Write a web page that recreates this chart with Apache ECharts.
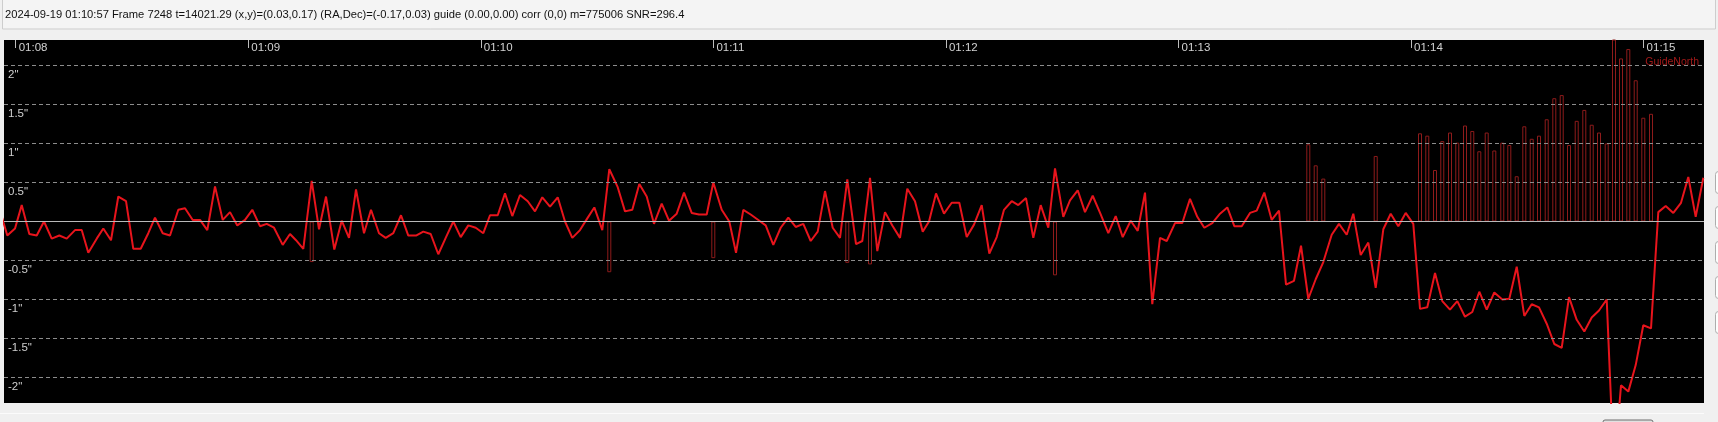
<!DOCTYPE html>
<html>
<head>
<meta charset="utf-8">
<script src="https://cdn.jsdelivr.net/npm/echarts@6/dist/echarts.min.js"></script>
<style>
html,body{margin:0;padding:0;background:#f0f0f0;width:1718px;height:422px;overflow:hidden}
#c{position:absolute;left:0;top:0;width:1718px;height:422px}
</style>
</head>
<body>
<div id="c"></div>
<script>
// ---- data (time in seconds after 01:08:00, offsets in arc-seconds) ----
const statusText = '2024-09-19 01:10:57 Frame 7248 t=14021.29 (x,y)=(0.03,0.17) (RA,Dec)=(-0.17,0.03) guide (0.00,0.00) corr (0,0) m=775006 SNR=296.4';
const tickSecs = [0, 60, 120, 180, 240, 300, 360, 420];
const tickLabels = ['01:08', '01:09', '01:10', '01:11', '01:12', '01:13', '01:14', '01:15'];
const yLabelVals = [2, 1.5, 1, 0.5, -0.5, -1, -1.5, -2];
const gridVals = [2, 1.5, 1, 0.5, -0.5, -1, -1.5, -2];

const sampleTimes = [
 -4.05, -2.17, -0.18, 1.55, 3.51, 5.42, 7.30, 9.29, 11.25, 13.16,
 15.30, 17.03, 18.73, 20.90, 22.60, 24.59, 26.47, 28.46, 30.34, 32.25,
 34.21, 35.94, 37.93, 39.81, 41.95, 43.68, 45.67, 47.55, 49.43, 51.42,
 53.41, 55.29, 57.17, 59.16, 61.04, 63.03, 64.76, 66.64, 68.89, 70.77,
 72.32, 74.20, 76.37, 78.25, 80.06, 82.20, 84.11, 85.99, 87.80, 89.86,
 91.67, 93.73, 95.46, 97.42, 99.41, 101.29, 103.28, 105.16, 107.07, 109.03,
 110.94, 112.90, 114.81, 116.77, 118.68, 120.64, 122.37, 124.36, 126.24, 128.12,
 130.11, 132.10, 133.98, 135.86, 137.85, 139.84, 141.72, 143.60,
 145.59, 147.47, 149.28, 151.34, 153.15, 155.32, 157.20, 159.08, 160.89, 162.80,
 164.68, 166.67, 168.55, 170.54, 172.42, 174.41, 176.29, 178.28, 179.98, 182.15,
 184.11, 185.84, 187.72, 189.63, 191.59, 193.50, 195.46, 197.37, 199.33, 201.24,
 203.20, 205.11, 206.92, 208.80, 210.79, 212.67, 214.55, 216.80,
 218.42, 220.41, 222.29, 224.28, 226.16, 228.15, 230.03, 232.02, 234.01, 235.63,
 237.44, 239.50, 241.49, 243.45, 245.36, 247.24, 249.23, 251.19, 253.10, 254.98,
 256.97, 258.67, 260.66, 262.54, 264.45, 266.41, 268.14, 270.28, 272.01, 274.00,
 275.88, 277.87, 279.93, 281.89, 283.80, 285.61, 287.67, 289.48, 291.36,
 293.24, 295.23, 296.96, 299.10, 300.98, 302.97, 304.85, 306.66, 308.72, 310.71,
 312.59, 314.40, 316.31, 318.45, 320.18, 322.14, 324.05, 325.93, 327.74, 329.80,
 331.61, 333.49, 335.40, 337.36, 339.53, 341.41, 343.40, 345.10, 347.01, 348.97,
 350.88, 352.84, 354.75, 356.71, 358.62, 360.58, 362.31, 364.19,
 366.18, 368.06, 370.05, 371.93, 373.92, 375.80, 377.61, 379.52, 381.48, 383.54,
 385.35, 387.26, 389.22, 391.13, 393.01, 395.00, 396.96, 398.87, 400.75, 402.74,
 404.70, 406.61, 408.49, 410.48, 412.36, 414.17, 416.05, 417.96, 419.92, 421.91,
 423.79, 425.70, 427.66, 429.65, 431.53, 433.44, 435.40
];

const decOffset = [
 0.14, -0.18, -0.09, 0.21, -0.16, -0.18, 0.00, -0.22, -0.18, -0.22,
 -0.11, -0.11, -0.40, -0.22, -0.09, -0.24, 0.32, 0.26, -0.35, -0.35,
 -0.15, 0.05, -0.15, -0.18, 0.15, 0.17, 0.02, 0.02, -0.11, 0.45,
 0.02, 0.12, -0.05, 0.02, 0.15, -0.06, -0.03, -0.08, -0.30, -0.16,
 -0.24, -0.35, 0.52, -0.10, 0.32, -0.36, 0.01, -0.21, 0.41, -0.15,
 0.15, -0.15, -0.21, -0.15, 0.08, -0.18, -0.18, -0.13, -0.16, -0.42,
 -0.21, 0.00, -0.20, -0.05, -0.08, -0.15, 0.08, 0.08, 0.36, 0.07,
 0.34, 0.26, 0.13, 0.31, 0.19, 0.31, 0.00, -0.21,
 -0.11, 0.04, 0.18, -0.11, 0.67, 0.44, 0.13, 0.15, 0.48, 0.32,
 -0.03, 0.23, 0.01, 0.10, 0.37, 0.11, 0.09, 0.09, 0.50, 0.15,
 0.00, -0.40, 0.15, 0.09, 0.02, -0.05, -0.30, -0.08, 0.05, -0.07,
 -0.03, -0.25, -0.13, 0.39, -0.08, -0.21, 0.54, -0.29,
 -0.25, 0.56, -0.38, 0.12, -0.05, -0.21, 0.42, 0.26, -0.13, 0.00,
 0.36, 0.10, 0.24, 0.24, -0.20, -0.04, 0.21, -0.41, -0.20, 0.15,
 0.26, 0.21, 0.30, -0.21, 0.21, -0.08, 0.68, 0.06, 0.27, 0.40,
 0.12, 0.33, 0.09, -0.15, 0.07, -0.20, 0.01, -0.12, 0.37,
 -1.06, -0.21, -0.25, -0.02, -0.02, 0.29, 0.06, -0.08, -0.02, 0.10,
 0.18, -0.06, -0.06, 0.11, 0.14, 0.37, 0.02, 0.14, -0.81, -0.76,
 -0.31, -0.99, -0.74, -0.52, -0.17, -0.03, -0.17, 0.10, -0.43, -0.27,
 -0.85, -0.10, 0.10, -0.06, 0.11, -0.03, -1.12, -1.10,
 -0.66, -1.02, -1.13, -1.02, -1.22, -1.16, -0.90, -1.13, -0.91, -1.00,
 -0.99, -0.58, -1.21, -1.06, -1.10, -1.31, -1.57, -1.62, -0.97, -1.26,
 -1.41, -1.23, -1.14, -1.00, -3.20, -2.10, -2.18, -1.84, -1.33, -1.37,
 0.12, 0.20, 0.11, 0.24, 0.57, 0.06, 0.56
];

const guideNorthT = [333.49, 335.40, 337.36, 350.88, 362.31, 364.19, 366.18, 368.06, 370.05, 371.93,
 373.92, 375.80, 377.61, 379.52, 381.48, 383.54, 385.35, 387.26, 389.22, 391.13,
 393.01, 395.00, 396.96, 398.87, 400.75, 402.74, 404.70, 406.61, 408.49, 410.48,
 412.36, 414.17, 416.05, 417.96, 419.92, 421.91];
const guideNorthV = [0.99, 0.72, 0.55, 0.84, 1.13, 1.10, 0.66, 1.03, 1.14, 1.01,
 1.23, 1.16, 0.90, 1.14, 0.91, 1.01, 0.98, 0.58, 1.22, 1.06,
 1.10, 1.31, 1.58, 1.62, 0.98, 1.29, 1.43, 1.24, 1.14, 1.00,
 2.60, 2.09, 2.21, 1.81, 1.33, 1.38];
const guideSouthT = [76.37, 153.15, 179.98, 214.55, 220.41, 268.14];
const guideSouthV = [-0.52, -0.65, -0.47, -0.53, -0.55, -0.69];

const X_MIN = -3.02, X_MAX = 435.58, Y_LIM = 2.326;

// ---- build ----
const lineData = sampleTimes.map((t, i) => [t, decOffset[i]]);
const pulseData = guideSouthT.map((t, i) => [t, guideSouthV[i]])
  .concat(guideNorthT.map((t, i) => [t, guideNorthV[i]]));

const gridMarks = gridVals.map(v => ({yAxis: v, lineStyle: {type: [4, 3], color: '#8c8c8c', width: 1}}));
gridMarks.push({yAxis: 0, lineStyle: {type: 'solid', color: '#b9b9b9', width: 1}});

const FONT = '"Liberation Sans", Arial, sans-serif';
const chart = echarts.init(document.getElementById('c'), null, {renderer: 'canvas', width: 1718, height: 422});
chart.setOption({
  animation: false,
  backgroundColor: '#f0f0f0',
  grid: {left: 4, right: 14, top: 40, bottom: 19, show: true, backgroundColor: '#000', borderWidth: 0},
  xAxis: {
    type: 'value', min: X_MIN, max: X_MAX, position: 'top',
    axisLine: {show: false, onZero: false}, splitLine: {show: false},
    axisTick: {show: true, inside: true, length: 8, customValues: tickSecs, lineStyle: {color: '#bdbdbd', width: 1}},
    axisLabel: {
      show: true, inside: true, customValues: tickSecs,
      formatter: v => tickLabels[Math.round(v / 60)],
      color: '#d2d2d2', fontFamily: FONT, fontSize: 11.5,
      align: 'left', verticalAlign: 'top', margin: 2, padding: [0, 0, 0, 3]
    }
  },
  yAxis: {
    type: 'value', min: -Y_LIM, max: Y_LIM,
    axisLine: {show: false, onZero: false}, axisTick: {show: false}, splitLine: {show: false},
    axisLabel: {
      show: true, inside: true, customValues: yLabelVals,
      formatter: v => String(v) + '"',
      color: '#cfcfcf', fontFamily: FONT, fontSize: 11.5,
      align: 'left', verticalAlign: 'top', margin: 4, padding: [3, 0, 0, 0]
    }
  },
  series: [
    {
      type: 'bar', name: 'GuideNorth', data: pulseData, barWidth: 4, z: 2,
      itemStyle: {color: 'rgba(0,0,0,0)', borderColor: '#8e1b1b', borderWidth: 1},
      markLine: {silent: true, symbol: ['none', 'none'], label: {show: false}, animation: false, data: gridMarks}
    },
    {
      type: 'line', name: 'Dec', data: lineData, symbol: 'none', z: 3,
      lineStyle: {color: '#e8141c', width: 2}
    }
  ],
  graphic: [
    {type: 'rect', shape: {x: 2.5, y: -1, width: 1713, height: 30}, style: {fill: '#f4f4f4', stroke: '#cdcdcd', lineWidth: 1}, silent: true},
    {type: 'text', x: 5, y: 9, style: {text: statusText, font: '11.2px ' + FONT, fill: '#111'}, silent: true},
    {type: 'text', x: 1699, y: 57, style: {text: 'GuideNorth', font: '10.5px ' + FONT, fill: '#a01818', align: 'right'}, z: 10, silent: true},
    {type: 'line', shape: {x1: 0, y1: 413.5, x2: 1704, y2: 413.5}, style: {stroke: '#fbfbfb', lineWidth: 1}, silent: true},
    {type: 'rect', shape: {x: 1603, y: 420, width: 50, height: 10, r: 2}, style: {fill: '#e1e1e1', stroke: '#6f6f6f', lineWidth: 1}, silent: true},
    {type: 'rect', shape: {x: 1715.5, y: 171.5, width: 20, height: 22, r: 3}, style: {fill: '#fdfdfd', stroke: '#adadad'}, silent: true},
    {type: 'rect', shape: {x: 1715.5, y: 206.5, width: 20, height: 22, r: 3}, style: {fill: '#fdfdfd', stroke: '#adadad'}, silent: true},
    {type: 'rect', shape: {x: 1715.5, y: 241.5, width: 20, height: 22, r: 3}, style: {fill: '#fdfdfd', stroke: '#adadad'}, silent: true},
    {type: 'rect', shape: {x: 1715.5, y: 276.5, width: 20, height: 22, r: 3}, style: {fill: '#fdfdfd', stroke: '#adadad'}, silent: true},
    {type: 'rect', shape: {x: 1715.5, y: 311.5, width: 20, height: 22, r: 3}, style: {fill: '#fdfdfd', stroke: '#adadad'}, silent: true}
  ]
});
</script>
</body>
</html>
